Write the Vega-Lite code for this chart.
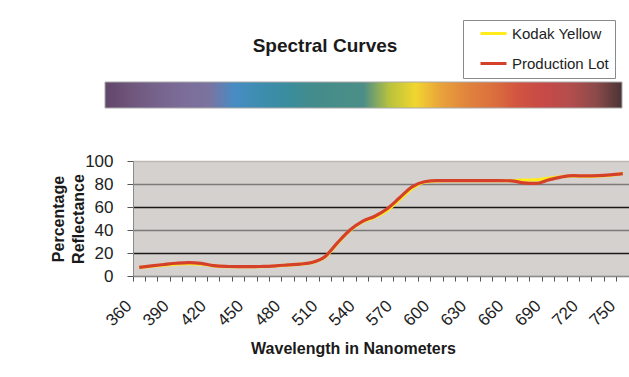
{
  "$schema": "https://vega.github.io/schema/vega-lite/v6.json",
  "autosize": "none",
  "width": 496,
  "height": 115,
  "padding": {"left": 133, "top": 161, "right": 0, "bottom": 101},
  "background": "white",
  "title": {
    "text": "Spectral Curves",
    "fontSize": 19,
    "fontWeight": "bold",
    "color": "#1a1a1a",
    "anchor": "middle",
    "frame": "group",
    "baseline": "middle",
    "offset": -45,
    "dx": -56
  },
  "datasets": {
    "curves": [
      {"wavelength": 360, "series": "Kodak Yellow", "reflectance": 7.3},
      {"wavelength": 370, "series": "Kodak Yellow", "reflectance": 8.5},
      {"wavelength": 380, "series": "Kodak Yellow", "reflectance": 9.5},
      {"wavelength": 390, "series": "Kodak Yellow", "reflectance": 10.3},
      {"wavelength": 400, "series": "Kodak Yellow", "reflectance": 10.8},
      {"wavelength": 410, "series": "Kodak Yellow", "reflectance": 10.4},
      {"wavelength": 420, "series": "Kodak Yellow", "reflectance": 8.8},
      {"wavelength": 430, "series": "Kodak Yellow", "reflectance": 8.2},
      {"wavelength": 440, "series": "Kodak Yellow", "reflectance": 8.1},
      {"wavelength": 450, "series": "Kodak Yellow", "reflectance": 8.1},
      {"wavelength": 460, "series": "Kodak Yellow", "reflectance": 8.2},
      {"wavelength": 470, "series": "Kodak Yellow", "reflectance": 8.7},
      {"wavelength": 480, "series": "Kodak Yellow", "reflectance": 9.5},
      {"wavelength": 490, "series": "Kodak Yellow", "reflectance": 10.3},
      {"wavelength": 500, "series": "Kodak Yellow", "reflectance": 11.8},
      {"wavelength": 510, "series": "Kodak Yellow", "reflectance": 16.5},
      {"wavelength": 520, "series": "Kodak Yellow", "reflectance": 28.5},
      {"wavelength": 530, "series": "Kodak Yellow", "reflectance": 39.5},
      {"wavelength": 540, "series": "Kodak Yellow", "reflectance": 47},
      {"wavelength": 550, "series": "Kodak Yellow", "reflectance": 51},
      {"wavelength": 560, "series": "Kodak Yellow", "reflectance": 57},
      {"wavelength": 570, "series": "Kodak Yellow", "reflectance": 66.5},
      {"wavelength": 580, "series": "Kodak Yellow", "reflectance": 76},
      {"wavelength": 590, "series": "Kodak Yellow", "reflectance": 81.5},
      {"wavelength": 600, "series": "Kodak Yellow", "reflectance": 82.8},
      {"wavelength": 610, "series": "Kodak Yellow", "reflectance": 83},
      {"wavelength": 620, "series": "Kodak Yellow", "reflectance": 83},
      {"wavelength": 630, "series": "Kodak Yellow", "reflectance": 83},
      {"wavelength": 640, "series": "Kodak Yellow", "reflectance": 83},
      {"wavelength": 650, "series": "Kodak Yellow", "reflectance": 83},
      {"wavelength": 660, "series": "Kodak Yellow", "reflectance": 83},
      {"wavelength": 670, "series": "Kodak Yellow", "reflectance": 83.4},
      {"wavelength": 680, "series": "Kodak Yellow", "reflectance": 83.6},
      {"wavelength": 690, "series": "Kodak Yellow", "reflectance": 85},
      {"wavelength": 700, "series": "Kodak Yellow", "reflectance": 86.3},
      {"wavelength": 710, "series": "Kodak Yellow", "reflectance": 87},
      {"wavelength": 720, "series": "Kodak Yellow", "reflectance": 86.7},
      {"wavelength": 730, "series": "Kodak Yellow", "reflectance": 86.9},
      {"wavelength": 740, "series": "Kodak Yellow", "reflectance": 87.5},
      {"wavelength": 750, "series": "Kodak Yellow", "reflectance": 89.2},
      {"wavelength": 360, "series": "Production Lot", "reflectance": 7.5},
      {"wavelength": 370, "series": "Production Lot", "reflectance": 8.8},
      {"wavelength": 380, "series": "Production Lot", "reflectance": 10},
      {"wavelength": 390, "series": "Production Lot", "reflectance": 11.1},
      {"wavelength": 400, "series": "Production Lot", "reflectance": 11.7},
      {"wavelength": 410, "series": "Production Lot", "reflectance": 11},
      {"wavelength": 420, "series": "Production Lot", "reflectance": 9},
      {"wavelength": 430, "series": "Production Lot", "reflectance": 8.3},
      {"wavelength": 440, "series": "Production Lot", "reflectance": 8.2},
      {"wavelength": 450, "series": "Production Lot", "reflectance": 8.2},
      {"wavelength": 460, "series": "Production Lot", "reflectance": 8.3},
      {"wavelength": 470, "series": "Production Lot", "reflectance": 8.8},
      {"wavelength": 480, "series": "Production Lot", "reflectance": 9.6},
      {"wavelength": 490, "series": "Production Lot", "reflectance": 10.4},
      {"wavelength": 500, "series": "Production Lot", "reflectance": 12},
      {"wavelength": 510, "series": "Production Lot", "reflectance": 17},
      {"wavelength": 520, "series": "Production Lot", "reflectance": 29},
      {"wavelength": 530, "series": "Production Lot", "reflectance": 40},
      {"wavelength": 540, "series": "Production Lot", "reflectance": 47.5},
      {"wavelength": 550, "series": "Production Lot", "reflectance": 52},
      {"wavelength": 560, "series": "Production Lot", "reflectance": 58.5},
      {"wavelength": 570, "series": "Production Lot", "reflectance": 68},
      {"wavelength": 580, "series": "Production Lot", "reflectance": 77.5},
      {"wavelength": 590, "series": "Production Lot", "reflectance": 82},
      {"wavelength": 600, "series": "Production Lot", "reflectance": 83},
      {"wavelength": 610, "series": "Production Lot", "reflectance": 83},
      {"wavelength": 620, "series": "Production Lot", "reflectance": 83},
      {"wavelength": 630, "series": "Production Lot", "reflectance": 83},
      {"wavelength": 640, "series": "Production Lot", "reflectance": 83},
      {"wavelength": 650, "series": "Production Lot", "reflectance": 83},
      {"wavelength": 660, "series": "Production Lot", "reflectance": 82.8},
      {"wavelength": 670, "series": "Production Lot", "reflectance": 81},
      {"wavelength": 680, "series": "Production Lot", "reflectance": 80.5},
      {"wavelength": 690, "series": "Production Lot", "reflectance": 83.5},
      {"wavelength": 700, "series": "Production Lot", "reflectance": 86},
      {"wavelength": 710, "series": "Production Lot", "reflectance": 87.3},
      {"wavelength": 720, "series": "Production Lot", "reflectance": 87},
      {"wavelength": 730, "series": "Production Lot", "reflectance": 87.3},
      {"wavelength": 740, "series": "Production Lot", "reflectance": 88},
      {"wavelength": 750, "series": "Production Lot", "reflectance": 89}
    ]
  },
  "data": {"name": "curves"},
  "encoding": {
    "x": {
      "field": "wavelength",
      "type": "ordinal",
      "scale": {"type": "band", "paddingInner": 0, "paddingOuter": 0},
      "axis": {
        "bandPosition": 0,
        "labelExpr": "datum.value % 30 == 0 ? datum.label : ''",
        "labelOverlap": false,
        "labelAngle": -45,
        "labelAlign": "right",
        "labelBaseline": "middle",
        "labelOffset": -10,
        "labelPadding": 22,
        "labelFontSize": 17,
        "labelColor": "#222222",
        "tickSize": 5,
        "tickColor": "#555555",
        "domainColor": "#8a8a8a",
        "grid": false,
        "title": "Wavelength in Nanometers",
        "titleFontSize": 16,
        "titleFontWeight": "bold",
        "titleColor": "#1a1a1a",
        "titleX": 220,
        "titleY": 72,
        "titleBaseline": "middle"
      }
    },
    "y": {
      "field": "reflectance",
      "type": "quantitative",
      "scale": {"domain": [0, 100], "nice": false},
      "axis": {
        "values": [0, 20, 40, 60, 80, 100],
        "grid": true,
        "gridColor": {"expr": "datum.value == 100 ? '#bdb9b5' : (datum.value % 40 == 20 ? '#1a1a1a' : '#7a7a7a')"},
        "gridWidth": 1.5,
        "labelFontSize": 17,
        "labelColor": "#222222",
        "labelPadding": 14,
        "tickSize": 6,
        "tickColor": "#555555",
        "domainColor": "#8a8a8a",
        "title": ["Percentage", "Reflectance"],
        "titleFontSize": 16,
        "titleFontWeight": "bold",
        "titleColor": "#1a1a1a",
        "titleLineHeight": 20,
        "titlePadding": -2
      }
    }
  },
  "layer": [
    {
      "mark": {"type": "line", "strokeWidth": 3.2, "interpolate": "monotone"},
      "encoding": {
        "color": {
          "field": "series",
          "type": "nominal",
          "scale": {"domain": ["Kodak Yellow", "Production Lot"], "range": ["#ffec1a", "#d5402a"]},
          "legend": {
            "orient": "none",
            "legendX": 330,
            "legendY": -141,
            "title": null,
            "symbolType": "stroke",
            "symbolSize": 676,
            "symbolStrokeWidth": 3,
            "symbolOffset": 10,
            "clipHeight": 15,
            "rowPadding": 14,
            "padding": 6,
            "labelOffset": 4,
            "labelFontSize": 15,
            "labelColor": "#222222",
            "strokeColor": "#8a8a8a",
            "fillColor": "white"
          }
        }
      }
    },
    {
      "mark": {"type": "point", "opacity": 0, "filled": true},
      "encoding": {
        "fill": {
          "field": "wavelength",
          "type": "quantitative",
          "scale": {
            "type": "linear",
            "clamp": true,
            "domain": [380, 398, 430, 460, 470, 482, 500, 540, 585, 600, 612, 625, 640, 660, 690, 705, 725, 750, 770, 780],
            "range": ["#62466a", "#6e5579", "#7a6a94", "#7c73a0", "#6a80b0", "#3b8fc6", "#3d8db0", "#438c8c", "#4d8e86", "#b8c23c", "#f2e12e", "#f0d030", "#e9a23a", "#e0843e", "#d8663c", "#cd4a44", "#c44a48", "#a85050", "#6e4444", "#4a3434"]
          },
          "legend": {
            "orient": "none",
            "legendX": -28,
            "legendY": -79,
            "direction": "horizontal",
            "gradientLength": 517,
            "gradientThickness": 26,
            "labelExpr": "''",
            "labelOpacity": 0,
            "title": null,
            "padding": 0,
            "tickCount": 80,
            "gradientStrokeColor": "#aaaaaa",
            "gradientStrokeWidth": 1
          }
        }
      }
    }
  ],
  "config": {
    "font": "Liberation Sans",
    "view": {"fill": "#d5d1ce", "stroke": null}
  }
}
